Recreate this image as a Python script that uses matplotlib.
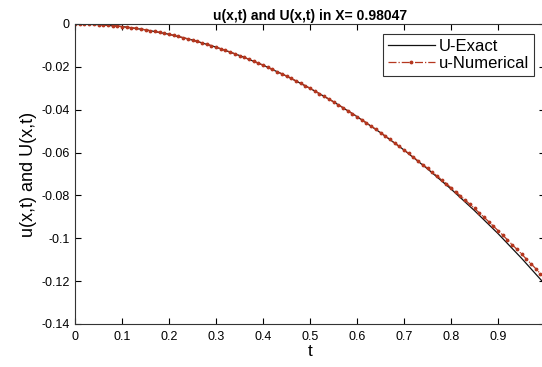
import matplotlib
matplotlib.use("Agg")
import matplotlib.pyplot as plt
import numpy as np

plt.rcParams['font.family'] = ['Liberation Sans', 'DejaVu Sans']

# Exact solution, t step 0.05
t_exact = [0.00, 0.05, 0.10, 0.15, 0.20, 0.25, 0.30, 0.35, 0.40, 0.45, 0.50,
           0.55, 0.60, 0.65, 0.70, 0.75, 0.80, 0.85, 0.90, 0.95, 1.00]
u_exact = [0.0, -0.0003, -0.0012, -0.0027, -0.0048, -0.0075, -0.0108, -0.0147,
           -0.0192, -0.0243, -0.0300, -0.0363, -0.0432, -0.0507, -0.0588,
           -0.0676, -0.0770, -0.0871, -0.0978, -0.1093, -0.1215]

# Numerical solution, t step 0.01
t_num = [i / 100 for i in range(101)]
u_num = [0.0, -0.000012, -0.000048, -0.000108, -0.000192, -0.0003, -0.000432,
         -0.000588, -0.000768, -0.000972, -0.0012, -0.001452, -0.001728,
         -0.002028, -0.002352, -0.0027, -0.003072, -0.003468, -0.003888,
         -0.004332, -0.0048, -0.005292, -0.005808, -0.006348, -0.006912,
         -0.0075, -0.008112, -0.008748, -0.009408, -0.010092, -0.0108,
         -0.011532, -0.012288, -0.013068, -0.013872, -0.0147, -0.015552,
         -0.016428, -0.017328, -0.018252, -0.0192, -0.020172, -0.021168,
         -0.022188, -0.023232, -0.0243, -0.025392, -0.026508, -0.027648,
         -0.028812, -0.03, -0.031212, -0.032448, -0.033708, -0.034992,
         -0.0363, -0.037632, -0.038988, -0.040368, -0.041772, -0.0432,
         -0.044652, -0.046128, -0.047628, -0.049152, -0.0507, -0.052272,
         -0.053868, -0.055488, -0.057132, -0.0588,
         -0.0604, -0.0621, -0.0639, -0.0656, -0.0673, -0.0691, -0.0709,
         -0.0727, -0.0745, -0.0764, -0.0783, -0.0802, -0.0821, -0.0841,
         -0.0861, -0.0881, -0.0901, -0.0922, -0.0943, -0.0964, -0.0985,
         -0.1007, -0.1029, -0.1051, -0.1073, -0.1096, -0.1118, -0.1141,
         -0.1165, -0.1188]

x_ticks = [0, 0.1, 0.2, 0.3, 0.4, 0.5, 0.6, 0.7, 0.8, 0.9, 1]
x_ticklabels = ['0', '0.1', '0.2', '0.3', '0.4', '0.5', '0.6', '0.7', '0.8', '0.9', '1']
y_ticks = [0, -0.02, -0.04, -0.06, -0.08, -0.1, -0.12, -0.14]
y_ticklabels = ['0', '-0.02', '-0.04', '-0.06', '-0.08', '-0.1', '-0.12', '-0.14']

W, H = 542, 367
fig = plt.figure(figsize=(W / 100, H / 100), dpi=100)
ax = fig.add_axes([75 / W, (H - 324) / H, 470 / W, 300 / H])

ax.plot(t_exact, u_exact, color='#111111', lw=0.9, label='U-Exact')
ax.plot(t_num, u_num, color='#b5371f', lw=0.9, ls='-.', marker='.',
        markersize=3.5, label='u-Numerical')

ax.set_xlim(0, 1)
ax.set_ylim(-0.14, 0)
ax.set_xticks(x_ticks)
ax.set_xticklabels(x_ticklabels)
ax.set_yticks(y_ticks)
ax.set_yticklabels(y_ticklabels)
ax.tick_params(direction='in', length=4, width=0.8, labelsize=9,
               top=True, right=True)
ax.tick_params(axis='x', pad=5)
ax.tick_params(axis='y', pad=4)
for s in ax.spines.values():
    s.set_linewidth(0.8)
    s.set_color('#333333')

ax.set_title('u(x,t) and U(x,t) in X= 0.98047', fontsize=10, fontweight='bold', pad=3)
ax.set_xlabel('t', fontsize=12.5, labelpad=1)
ax.set_ylabel('u(x,t) and U(x,t)', fontsize=13, labelpad=3)

leg = ax.legend(loc='upper right', bbox_to_anchor=(0.9766, 0.9667),
                borderaxespad=0, fontsize=12, frameon=True, fancybox=False,
                handlelength=2.8, handletextpad=0.25, borderpad=0.3,
                labelspacing=0.1)
leg.get_frame().set_edgecolor('black')
leg.get_frame().set_linewidth(0.8)

fig.savefig('out.png', dpi=100)
